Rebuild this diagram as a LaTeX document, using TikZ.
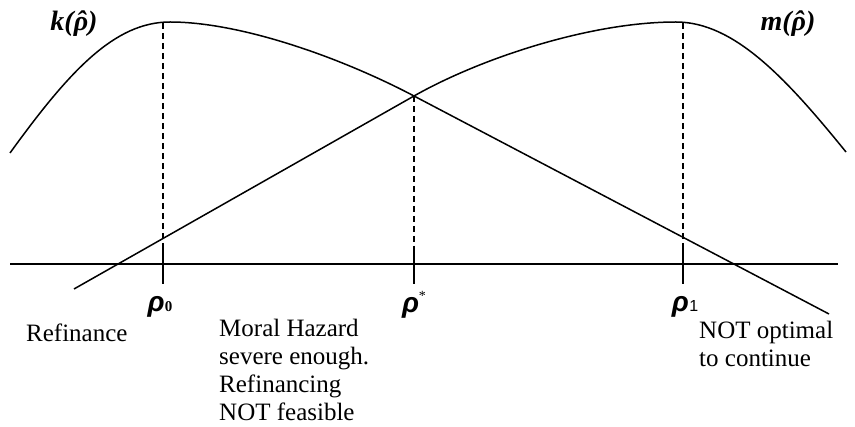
\documentclass[tikz,border=0pt]{standalone}
\usepackage{fontspec}
\setmainfont{Liberation Serif}
\newfontfamily\rhofont{Liberation Sans}
\newcommand\hatrho{\accent"02C6 ρ}
\begin{document}
\begin{tikzpicture}[x=1pt,y=-1pt,
  curve/.style={line width=1.5pt},
  guide/.style={line width=1.3pt, dash pattern=on 6pt off 4pt},
  tickmark/.style={line width=1.5pt},
  lbl/.style={inner sep=0pt, font=\fontsize{25}{28}\selectfont, align=left},
  fn/.style={inner sep=0pt, font=\fontsize{28}{30}\selectfont\bfseries\itshape},
  rho/.style={inner sep=0pt, font=\fontsize{28}{30}\selectfont\rhofont\bfseries\itshape}]
\useasboundingbox (0,0) rectangle (855,427);
% key points
\coordinate (ax0) at (10,264);
\coordinate (ax1) at (838,264);
\coordinate (kpk) at (163,23);
\coordinate (mpk) at (683,23);
\coordinate (cross) at (414,96);
\coordinate (a0) at (163,264);
\coordinate (as) at (414,264);
\coordinate (a1) at (683,264);
\coordinate (t0a) at (163,246);
\coordinate (t0b) at (163,284);
\coordinate (tsa) at (414,246);
\coordinate (tsb) at (414,284);
\coordinate (t1a) at (683,246);
\coordinate (t1b) at (683,284);
% axis
\draw[curve] (ax0) -- (ax1);
% k curve
\draw[curve] (10,153) .. controls (70,70) and (115,22) .. (170,22)
  .. controls (240,22) and (340,57) .. (cross) -- (829,314);
% m curve
\draw[curve] (74,289) -- (cross) .. controls (480,58.5) and (590,22) .. (676,22)
  .. controls (734,22) and (786,78) .. (846,152);
% guides
\draw[guide] (kpk) -- (a0);
\draw[guide] (cross) -- (as);
\draw[guide] (mpk) -- (a1);
% ticks
\draw[tickmark] (t0a) -- (t0b);
\draw[tickmark] (tsa) -- (tsb);
\draw[tickmark] (t1a) -- (t1b);
% labels
\node[fn, anchor=base] (kl) at (74,31) {k(\hatrho)};
\node[fn, anchor=base] (ml) at (788,31) {m(\hatrho)};
\node[rho, anchor=base] (r0) at (160,312) {ρ\kern0.5pt{\rmfamily\upshape\fontsize{15}{15}\selectfont 0}};
\node[rho, anchor=base] (rs) at (414,313) {ρ\raisebox{12pt}{\rmfamily\upshape\mdseries\fontsize{14}{14}\selectfont *}};
\node[rho, anchor=base] (r1) at (685,312) {ρ\kern0.5pt{\mdseries\upshape\fontsize{16}{16}\selectfont 1}};
\node[lbl, anchor=base west] (ref) at (26,342) {Refinance};
\node[lbl, anchor=base west] (mh) at (219,421) {Moral Hazard\\severe enough.\\Refinancing\\NOT feasible};
\node[lbl, anchor=base west] (no) at (699,367) {NOT optimal\\to continue};
\end{tikzpicture}
\end{document}
